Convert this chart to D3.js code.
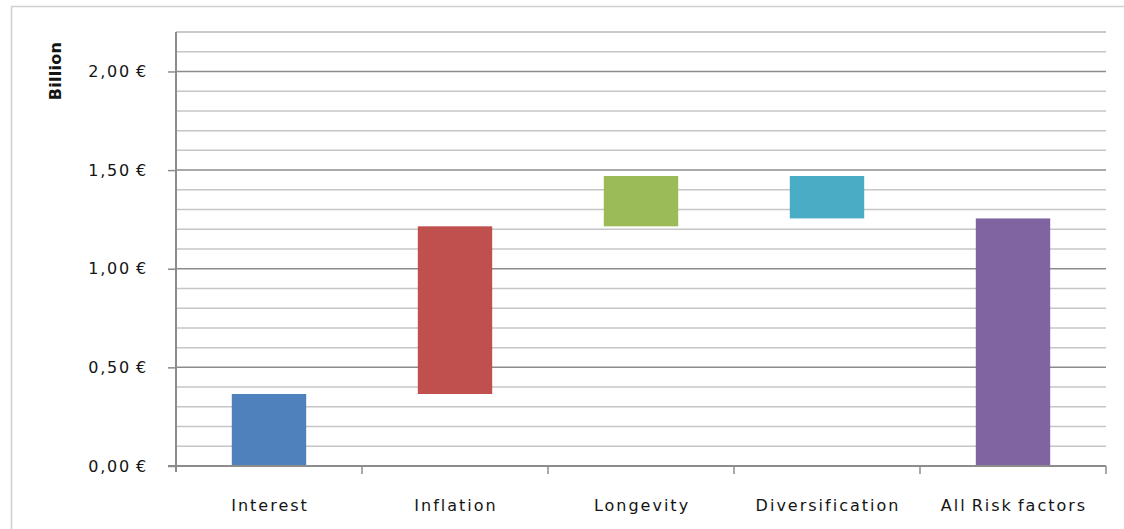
<!DOCTYPE html>
<html>
<head>
<meta charset="utf-8">
<script src="https://cdn.jsdelivr.net/npm/d3@7"></script>
<style>
  html, body { margin: 0; padding: 0; background: #fff; }
  svg { display: block; }
  text { font-family: "DejaVu Sans", "Open Sans", sans-serif; fill: #141414; }
</style>
</head>
<body>
<svg id="chart" width="1124" height="529"></svg>
<script>
// Risk factor waterfall (values in billion €)
const categories = ["Interest", "Inflation", "Longevity", "Diversification", "All Risk factors"];
const barLow  = [0.000, 0.365, 1.215, 1.255, 0.000];
const barHigh = [0.365, 1.215, 1.470, 1.470, 1.255];
const barColors = ["#4F81BD", "#C0504D", "#9BBB59", "#4BACC6", "#8064A2"];
const yTicks = [0, 0.5, 1.0, 1.5, 2.0];
const yMinorTicks = d3.range(0, 2.2001, 0.1);
const yMax = 2.2;

const svg = d3.select("#chart");
const W = 1124, H = 529;
const plot = { left: 176, right: 1106, top: 32, bottom: 466 };

// outer chart frame (clipped on the right and bottom)
svg.append("rect")
  .attr("x", 11.5).attr("y", 6.5)
  .attr("width", W + 20).attr("height", H + 20)
  .attr("fill", "none").attr("stroke", "#d0d0d0").attr("stroke-width", 1.5);

const x = d3.scaleBand()
  .domain(categories)
  .range([plot.left, plot.right])
  .paddingInner(0.6).paddingOuter(0.3);

const y = d3.scaleLinear().domain([0, yMax]).range([plot.bottom, plot.top]);

const fmt = v => d3.format(".2f")(v).replace(".", ",") + "\u2009€";

// minor grid
svg.append("g").selectAll("line")
  .data(yMinorTicks.filter(v => Math.abs(v * 2 - Math.round(v * 2)) > 1e-6))
  .join("line")
  .attr("x1", plot.left).attr("x2", plot.right)
  .attr("y1", d => y(d)).attr("y2", d => y(d))
  .attr("stroke", "#c6c6c6").attr("stroke-width", 1.5);

// top border line of plot
svg.append("line")
  .attr("x1", plot.left).attr("x2", plot.right)
  .attr("y1", y(yMax)).attr("y2", y(yMax))
  .attr("stroke", "#c6c6c6").attr("stroke-width", 1.5);

// major grid
svg.append("g").selectAll("line")
  .data(yTicks.filter(v => v > 0))
  .join("line")
  .attr("x1", plot.left).attr("x2", plot.right)
  .attr("y1", d => y(d)).attr("y2", d => y(d))
  .attr("stroke", "#8c8c8c").attr("stroke-width", 1.5);

// bars
svg.append("g").selectAll("rect")
  .data(categories)
  .join("rect")
  .attr("x", d => x(d))
  .attr("width", x.bandwidth())
  .attr("y", (d, i) => y(barHigh[i]))
  .attr("height", (d, i) => y(barLow[i]) - y(barHigh[i]))
  .attr("fill", (d, i) => barColors[i]);

// y axis
const yAxis = svg.append("g")
  .attr("transform", `translate(${plot.left},0)`)
  .call(d3.axisLeft(y).tickValues(yTicks).tickFormat(fmt).tickSize(8).tickPadding(20));
yAxis.select(".domain").attr("stroke", "#8c8c8c").attr("stroke-width", 2)
  .attr("d", `M0,${y(yMax)}V${y(0) + 6}`);
yAxis.selectAll(".tick line").attr("stroke", "#8c8c8c").attr("stroke-width", 1.5);
yAxis.selectAll(".tick text").attr("font-size", 16).attr("fill", "#141414")
  .style("font-family", "'DejaVu Sans', sans-serif").attr("letter-spacing", 1.8);

// x axis with ticks at category boundaries
const boundaries = categories.map(c => x(c) - x.step() * x.paddingInner() / 2);
boundaries.push(plot.right);
const xAxisG = svg.append("g");
xAxisG.append("line")
  .attr("x1", plot.left - 8).attr("x2", plot.right)
  .attr("y1", plot.bottom).attr("y2", plot.bottom)
  .attr("stroke", "#8c8c8c").attr("stroke-width", 2);
xAxisG.selectAll("line.tk")
  .data(boundaries.slice(1))
  .join("line").attr("class", "tk")
  .attr("x1", d => d).attr("x2", d => d)
  .attr("y1", plot.bottom).attr("y2", plot.bottom + 8)
  .attr("stroke", "#8c8c8c").attr("stroke-width", 1.5);
xAxisG.selectAll("text")
  .data(categories)
  .join("text")
  .attr("x", d => x(d) + x.bandwidth() / 2 + 1)
  .attr("y", 511)
  .attr("text-anchor", "middle")
  .attr("font-size", 16)
  .attr("letter-spacing", 2)
  .attr("word-spacing", -2)
  .text(d => d);

// y axis title
svg.append("text")
  .attr("transform", `translate(61,71) rotate(-90)`)
  .attr("text-anchor", "middle")
  .attr("font-size", 16)
  .attr("font-weight", "bold")
  .attr("letter-spacing", 0.3)
  .text("Billion");
</script>
</body>
</html>
